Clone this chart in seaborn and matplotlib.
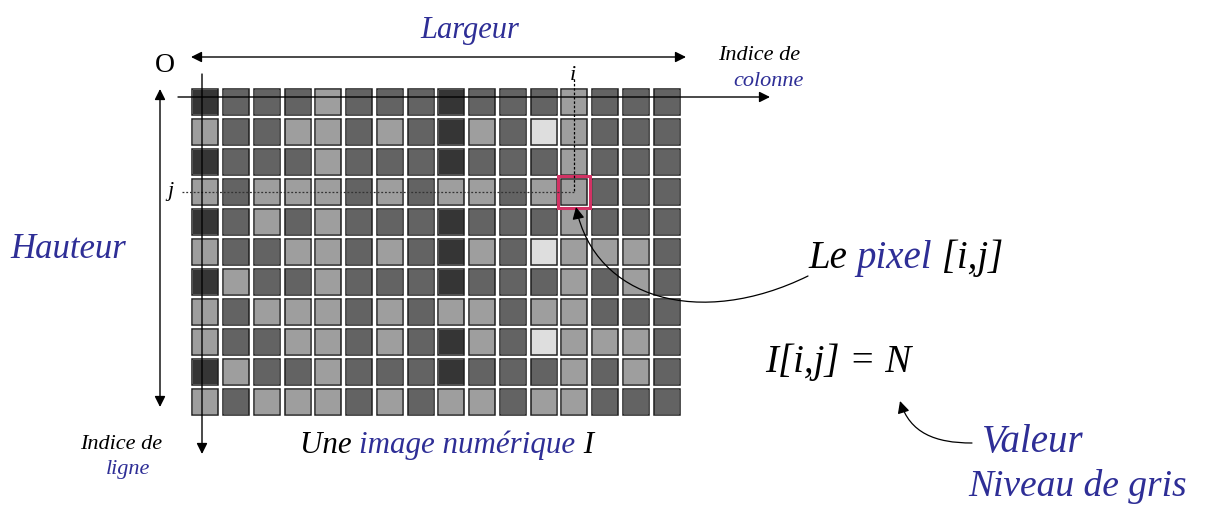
import numpy as np
import pandas as pd
import seaborn as sns
import matplotlib
matplotlib.use("Agg")
import matplotlib.pyplot as plt
from matplotlib.patches import Rectangle, FancyArrowPatch
from matplotlib.path import Path

# grey levels (0 = black, 1 = white)
D, M, L, W = 0.21, 0.39, 0.62, 0.87

row_00 = [D, M, M, M, L, M, M, M, D, M, M, M, L, M, M, M]
row_01 = [L, M, M, L, L, M, L, M, D, L, M, W, L, M, M, M]
row_02 = [D, M, M, M, L, M, M, M, D, M, M, M, L, M, M, M]
row_03 = [L, M, L, L, L, M, L, M, L, L, M, L, L, M, M, M]
row_04 = [D, M, L, M, L, M, M, M, D, M, M, M, L, M, M, M]
row_05 = [L, M, M, L, L, M, L, M, D, L, M, W, L, L, L, M]
row_06 = [D, L, M, M, L, M, M, M, D, M, M, M, L, M, L, M]
row_07 = [L, M, L, L, L, M, L, M, L, L, M, L, L, M, M, M]
row_08 = [L, M, M, L, L, M, L, M, D, L, M, W, L, L, L, M]
row_09 = [D, L, M, M, L, M, M, M, D, M, M, M, L, M, L, M]
row_10 = [L, M, L, L, L, M, L, M, L, L, M, L, L, M, M, M]

rows = [row_00, row_01, row_02, row_03, row_04, row_05,
        row_06, row_07, row_08, row_09, row_10]
grid = pd.DataFrame(rows)

pixel_i, pixel_j = 12, 3

BLUE = "#2e2e96"
SERIF = ["Liberation Serif", "DejaVu Serif"]

FW, FH = 1207, 506
fig = plt.figure(figsize=(FW / 100, FH / 100), dpi=100)

# ---- pixel grid as a seaborn heatmap ----
ax = fig.add_axes([190 / FW, 1 - 418 / FH, 492 / FW, 330 / FH])
sns.heatmap(grid, cmap="gray", vmin=0, vmax=1, cbar=False, ax=ax,
            linewidths=3.2, linecolor="white",
            xticklabels=False, yticklabels=False)
g = 0.075
nr, nc = grid.shape
for r in range(nr):
    for c in range(nc):
        ax.add_patch(Rectangle((c + g, r + g), 1 - 2 * g, 1 - 2 * g,
                               fill=False, ec="#1e1e1e", lw=1.1, zorder=3))
ax.add_patch(Rectangle((pixel_i - 0.02, pixel_j - 0.02), 1.04, 1.04,
                       fill=False, ec="#d23264", lw=2.2, zorder=4))

# ---- overlay in pixel coordinates for annotations ----
ov = fig.add_axes([0, 0, 1, 1])
ov.set_xlim(0, FW)
ov.set_ylim(FH, 0)
ov.axis("off")
ov.patch.set_alpha(0)

def arrow(p0, p1, style="-|>", lw=1.0, ms=16, ls="-"):
    ov.annotate("", xy=p1, xytext=p0,
                arrowprops=dict(arrowstyle=style, color="black", lw=lw,
                                mutation_scale=ms, shrinkA=0, shrinkB=0,
                                linestyle=ls))

# width arrow
arrow((191, 58), (686, 58), style="<|-|>")
# height arrow
arrow((160, 90), (160, 408), style="<|-|>")
# line index axis (vertical)
arrow((202, 75), (202, 455))
# column index axis (horizontal)
arrow((178, 98), (770, 98))
# i guide and j guide
ov.plot([574, 574], [80, 193], color="black", lw=0.9, ls=(0, (2, 1.5)))
ov.plot([182, 574], [193, 193], color="#333333", lw=0.9, ls=(0, (1.5, 1.5)))

# curved arrow from "Le pixel" to the pixel
verts = [(808, 277), (700, 330), (595, 300), (576, 208)]
path = Path(verts, [Path.MOVETO, Path.CURVE4, Path.CURVE4, Path.CURVE4])
ov.add_patch(FancyArrowPatch(path=path, arrowstyle="-|>", mutation_scale=18,
                             color="black", lw=0.9))
# curved arrow from "Valeur" to N
verts2 = [(972, 444), (935, 444), (910, 434), (900, 402)]
path2 = Path(verts2, [Path.MOVETO, Path.CURVE4, Path.CURVE4, Path.CURVE4])
ov.add_patch(FancyArrowPatch(path=path2, arrowstyle="-|>", mutation_scale=18,
                             color="black", lw=0.9))

# ---- texts ----
def txt(x, y, s, size, color="black", style="italic", ha="left"):
    return ov.text(x, y, s, fontsize=size, color=color, style=style,
                   family=SERIF, ha=ha, va="baseline")

def multi(x, y, parts, size):
    fig.canvas.draw()
    r = fig.canvas.get_renderer()
    inv = ov.transData.inverted()
    for s, col in parts:
        t = txt(x, y, s, size, col)
        bb = t.get_window_extent(renderer=r)
        x = inv.transform((bb.x1, bb.y0))[0]

txt(420, 38, "Largeur", 22, BLUE)
txt(155, 72, "O", 20, "black", style="normal")
txt(10, 258, "Hauteur", 25, BLUE)
txt(570, 80, "i", 16)
txt(167, 196, "j", 16)
txt(718, 60, "Indice de", 16)
txt(733, 86, "colonne", 16, BLUE)
txt(80, 449, "Indice de", 16)
txt(106, 474, "ligne", 16, BLUE)
multi(808, 268, [("Le ", "black"), ("pixel", BLUE), (" [i,j]", "black")], 28)
txt(765, 372, "I[i,j] = N", 28)
txt(982, 452, "Valeur", 28, BLUE)
txt(968, 496, "Niveau de gris", 27, BLUE)
multi(300, 453, [("Une ", "black"), ("image numérique", BLUE), (" I", "black")], 22.3)

fig.savefig("out.png", dpi=100)
